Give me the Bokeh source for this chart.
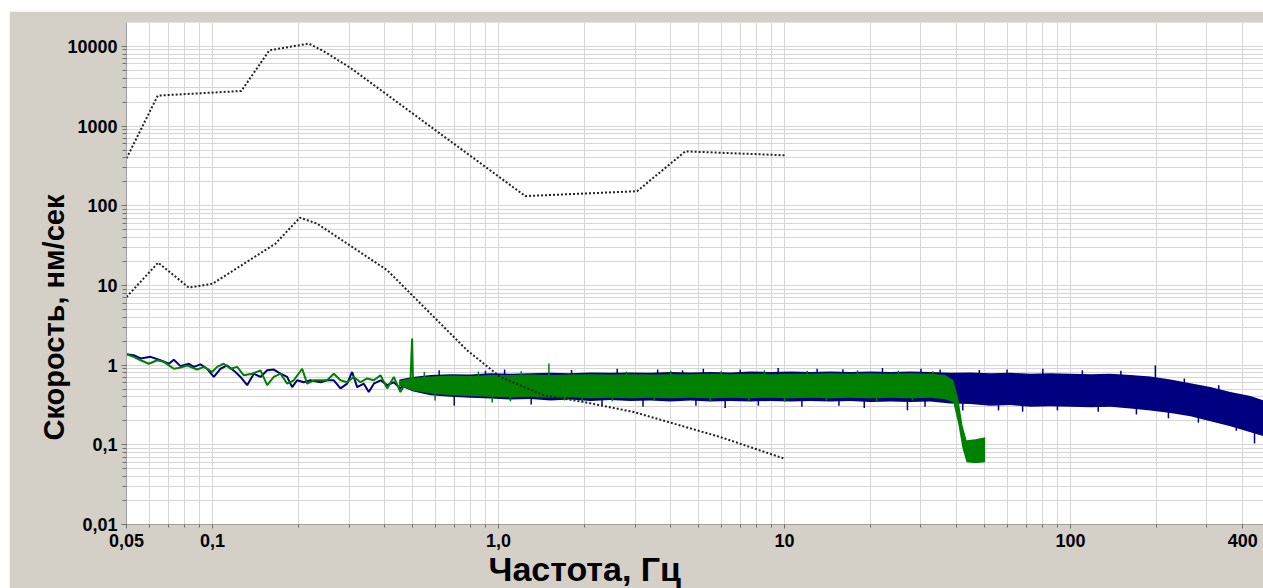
import numpy as np
from bokeh.plotting import figure
from bokeh.models import Range1d, FixedTicker, Title, Spacer
from bokeh.layouts import column, row
from bokeh.embed import file_html
from bokeh.resources import INLINE

# ---------------- data ----------------
# upper dotted model curve
upper_f = [0.05, 0.0643, 0.126, 0.158, 0.217, 0.245, 0.304, 1.24, 3.05, 4.5, 10.0]
upper_v = [393, 2406, 2750, 8910, 10810, 8660, 5340, 132, 152, 481, 429]

# lower dotted model curve
lower_f = [0.05, 0.0645, 0.0826, 0.1, 0.166, 0.202, 0.232, 0.408, 0.777, 1.016, 1.44, 1.99, 2.97, 5.97, 10.0]
lower_v = [7.15, 19.3, 9.38, 10.5, 33.5, 70.9, 59.6, 15.5, 1.53, 0.709, 0.418, 0.344, 0.258, 0.125, 0.067]

# blue spectrum, low-frequency part (line)
blue_f = [0.0500, 0.0530, 0.0560, 0.0607, 0.0657, 0.0703, 0.0732, 0.0772, 0.0826, 0.0860,
          0.0907, 0.0957, 0.1010, 0.1066, 0.1124, 0.1202, 0.1252, 0.1321, 0.1394, 0.1471,
          0.1552, 0.1637, 0.1728, 0.1823, 0.1898, 0.1975, 0.2084, 0.2199, 0.2384, 0.2515,
          0.2654, 0.2801, 0.2955, 0.3076, 0.3203, 0.3379, 0.3518, 0.3663, 0.3865, 0.4078,
          0.4302, 0.4539, 0.4790, 0.5054, 0.533]
blue_v = [1.37, 1.33, 1.21, 1.27, 1.15, 1.04, 1.17, 0.97, 1.04, 0.95,
          1.02, 0.90, 0.71, 0.90, 0.99, 0.82, 0.71, 0.56, 0.78, 0.71,
          0.86, 0.88, 0.78, 0.71, 0.53, 0.645, 0.61, 0.645, 0.61, 0.645,
          0.645, 0.51, 0.585, 0.82, 0.53, 0.585, 0.46, 0.585, 0.645, 0.56,
          0.61, 0.51, 0.645, 0.585, 0.53]

# green spectrum, low-frequency part (line)
green_f = [0.0500, 0.0530, 0.0560, 0.0599, 0.0640, 0.0675, 0.0732, 0.0772, 0.0815, 0.0883,
           0.0932, 0.0997, 0.1037, 0.1094, 0.1155, 0.1219, 0.1286, 0.1375, 0.1471, 0.1552,
           0.1637, 0.1728, 0.1823, 0.1923, 0.2057, 0.2141, 0.2259, 0.2384, 0.2515, 0.2654,
           0.2801, 0.2955, 0.3117, 0.3290, 0.3470, 0.3663, 0.3865, 0.4078, 0.4302, 0.4539,
           0.4790, 0.492, 0.4986, 0.502, 0.533]
green_v = [1.37, 1.27, 1.15, 1.04, 1.15, 1.10, 0.90, 0.93, 0.99, 0.88,
           0.95, 0.82, 0.95, 1.04, 0.90, 0.95, 0.745, 0.78, 0.86, 0.56,
           0.71, 0.78, 0.585, 0.645, 0.90, 0.585, 0.645, 0.645, 0.645, 0.78,
           0.645, 0.61, 0.71, 0.61, 0.68, 0.645, 0.745, 0.51, 0.71, 0.46,
           0.645, 0.645, 2.15, 0.645, 0.51]

# dense part of the blue spectrum: envelope (upper / lower)
blue_band_f = [0.45, 0.5, 0.578, 0.679, 0.797, 0.937, 1.10, 1.293, 1.519, 1.784,
               2.096, 2.462, 2.892, 3.40, 3.99, 4.69, 5.51, 6.47, 7.60, 8.93,
               10.49, 12.32, 14.47, 17.0, 19.98, 23.47, 27.57, 32.38, 38.0, 44.7,
               52.5, 61.6, 72.4, 85.1, 99.9, 117.4, 137.9, 162.0, 190.3, 223.6,
               262.6, 308.5, 362.4, 425.8, 473.0]
blue_band_hi = [0.66, 0.71, 0.75, 0.77, 0.76, 0.79, 0.78, 0.79, 0.80, 0.79,
                0.81, 0.80, 0.81, 0.80, 0.82, 0.81, 0.82, 0.81, 0.83, 0.82,
                0.83, 0.82, 0.83, 0.82, 0.83, 0.82, 0.83, 0.82, 0.80, 0.81,
                0.79, 0.80, 0.78, 0.79, 0.78, 0.77, 0.78, 0.75, 0.72, 0.66,
                0.59, 0.53, 0.46, 0.41, 0.36]
blue_band_lo = [0.55, 0.47, 0.42, 0.40, 0.39, 0.38, 0.37, 0.375, 0.36, 0.37,
                0.355, 0.365, 0.355, 0.36, 0.35, 0.36, 0.35, 0.355, 0.35, 0.355,
                0.35, 0.355, 0.35, 0.355, 0.345, 0.35, 0.345, 0.35, 0.33, 0.325,
                0.31, 0.315, 0.30, 0.305, 0.30, 0.295, 0.30, 0.285, 0.27, 0.25,
                0.228, 0.197, 0.171, 0.144, 0.128]

# dense part of the green spectrum: envelope (upper / lower)
green_band_f = [0.45, 0.5, 0.578, 0.679, 0.797, 0.937, 1.10, 1.293, 1.519, 1.784,
                2.096, 2.462, 2.892, 3.40, 3.99, 4.69, 5.51, 6.47, 7.60, 8.93,
                10.49, 12.32, 14.47, 17.0, 19.98, 23.47, 27.57, 32.38, 36.5, 38.9,
                40.6, 41.9, 43.3, 46.5, 50.3]
green_band_hi = [0.64, 0.69, 0.72, 0.74, 0.73, 0.75, 0.75, 0.76, 0.75, 0.76,
                 0.77, 0.76, 0.77, 0.76, 0.77, 0.77, 0.78, 0.77, 0.78, 0.77,
                 0.78, 0.78, 0.79, 0.78, 0.79, 0.78, 0.79, 0.78, 0.75, 0.645,
                 0.362, 0.176, 0.114, 0.117, 0.124]
green_band_lo = [0.56, 0.48, 0.44, 0.42, 0.41, 0.40, 0.395, 0.40, 0.39, 0.395,
                 0.385, 0.39, 0.385, 0.39, 0.385, 0.39, 0.385, 0.39, 0.385, 0.39,
                 0.385, 0.39, 0.385, 0.39, 0.385, 0.39, 0.385, 0.39, 0.372, 0.341,
                 0.176, 0.0904, 0.0603, 0.0586, 0.0603]

# noise spikes sticking out of the dense bands
blue_spike_f = [0.62, 0.7, 0.9, 1.05, 1.3, 1.8, 2.3, 2.6, 3.2, 3.6,
                4.4, 4.9, 5.2, 6.2, 7.0, 8.1, 9.5, 11.5, 13.0, 15.5,
                16.0, 19.0, 22.0, 26.9, 30.0, 31.0, 35.0, 42.0, 48.0, 56.0,
                60.0, 68.0, 80.0, 90.0, 110.0, 125.0, 150.0, 170.0, 198.0, 220.0,
                250.0, 280.0, 330.0, 380.0, 440.0]
blue_spike_base = [0.55] * 37 + [0.4, 0.6, 0.3, 0.45, 0.3, 0.35, 0.25, 0.2]
blue_spike_tip = [0.86, 0.31, 0.85, 0.88, 0.32, 0.87, 0.31, 0.90, 0.30, 0.88,
                  0.86, 0.31, 0.90, 0.29, 0.88, 0.31, 0.92, 0.30, 0.90, 0.31,
                  0.89, 0.29, 0.92, 0.271, 0.90, 0.30, 0.88, 0.27, 0.87, 0.27,
                  0.88, 0.26, 0.90, 0.27, 0.86, 0.26, 0.85, 0.24, 0.99, 0.215,
                  0.68, 0.19, 0.56, 0.15, 0.104]
green_spike_f = [0.55, 0.6, 0.85, 0.95, 1.1, 1.2, 1.5, 1.7, 1.96, 2.5,
                 2.8, 3.5, 4.0, 5.5, 6.0, 7.5, 8.5, 10.0, 12.0, 14.0,
                 18.0, 21.0, 25.0, 28.0, 33.0]
green_spike_base = [0.55] * 25
green_spike_tip = [0.82, 0.36, 0.83, 0.34, 0.35, 0.84, 1.045, 0.36, 0.35, 0.35,
                   0.83, 0.36, 0.85, 0.35, 0.84, 0.36, 0.86, 0.35, 0.85, 0.36,
                   0.86, 0.35, 0.85, 0.36, 0.84]

# ticks and labels
x_major = [0.05, 0.1, 1.0, 10.0, 100.0, 400.0]
x_labels = ["0,05", "0,1", "1,0", "10", "100", "400"]
y_major = [0.01, 0.1, 1.0, 10.0, 100.0, 1000.0, 10000.0]
y_labels = ["0,01", "0,1", "1", "10", "100", "1000", "10000"]

x_minor = [m * 10.0 ** e for e in (-2, -1, 0, 1, 2) for m in range(1, 10)]
x_minor = [v for v in x_minor if 0.05 - 1e-9 <= v <= 500]
y_minor = [m * 10.0 ** e for e in (-2, -1, 0, 1, 2, 3, 4) for m in range(1, 10)]

x_title = "Частота, Гц"
y_title = "Скорость, нм/сек"

FONT = "Liberation Sans"
BG = "#d4d0c8"
NAVY = "#000080"
GREEN = "#008000"

p = figure(width=1254, height=577, x_axis_type="log", y_axis_type="log",
           x_range=Range1d(0.05, 473), y_range=Range1d(0.01, 19900),
           output_backend="svg", toolbar_location=None,
           min_border_left=117, min_border_right=0, min_border_top=11, min_border_bottom=64,
           background_fill_color="white", border_fill_color=BG)
p.outline_line_color = None

# grids at every minor position
for g, ticks in ((p.xgrid[0], x_minor), (p.ygrid[0], y_minor)):
    g.ticker = FixedTicker(ticks=ticks)
    g.grid_line_color = "#d6d6d6"
    g.grid_line_width = 1

# axes
p.xaxis.ticker = FixedTicker(ticks=x_major, minor_ticks=x_minor)
p.yaxis.ticker = FixedTicker(ticks=y_major, minor_ticks=y_minor)
p.xaxis.major_label_overrides = {k: v for k, v in zip(x_major, x_labels)}
p.yaxis.major_label_overrides = {k: v for k, v in zip(y_major, y_labels)}
for ax in (p.xaxis[0], p.yaxis[0]):
    ax.axis_line_color = "#a0a0a0"
    ax.major_tick_line_color = "#707070"
    ax.minor_tick_line_color = "#707070"
    ax.major_tick_in = 0
    ax.minor_tick_in = 0
    ax.major_label_text_font = FONT
    ax.major_label_text_font_style = "bold"
    ax.major_label_text_font_size = "18px"
    ax.major_label_text_color = "black"
p.xaxis.major_tick_out = 4
p.xaxis.minor_tick_out = 3
p.xaxis.major_label_standoff = 5
p.yaxis.major_tick_out = 5
p.yaxis.minor_tick_out = 4
p.yaxis.major_label_standoff = 4

# axis titles as side-panel titles (positioned along the axes)
p.add_layout(Title(text=x_title, align="left", offset=362, standoff=-3,
                   text_font=FONT, text_font_style="bold", text_font_size="34px",
                   text_color="black"), "below")
p.add_layout(Title(text=y_title, align="left", offset=84, standoff=-11,
                   text_font=FONT, text_font_style="bold", text_font_size="29px",
                   text_color="black"), "left")

# spectra
p.varea(x=blue_band_f, y1=blue_band_lo, y2=blue_band_hi, fill_color=NAVY)
p.line(blue_f, blue_v, line_color=NAVY, line_width=2)
p.segment(x0=blue_spike_f, y0=blue_spike_base, x1=blue_spike_f, y1=blue_spike_tip,
          line_color=NAVY, line_width=1.5)
p.varea(x=green_band_f, y1=green_band_lo, y2=green_band_hi, fill_color=GREEN)
p.line(green_f, green_v, line_color=GREEN, line_width=2)
p.segment(x0=green_spike_f, y0=green_spike_base, x1=green_spike_f, y1=green_spike_tip,
          line_color=GREEN, line_width=1.5)

# model curves
p.line(upper_f, upper_v, line_color="#222222", line_width=2, line_dash="2 2")
p.line(lower_f, lower_v, line_color="#222222", line_width=2, line_dash="2 2")

layout = column(Spacer(width=1263, height=11),
                row(Spacer(width=9, height=577), p))
open("out.html", "w").write(file_html(layout, INLINE))
